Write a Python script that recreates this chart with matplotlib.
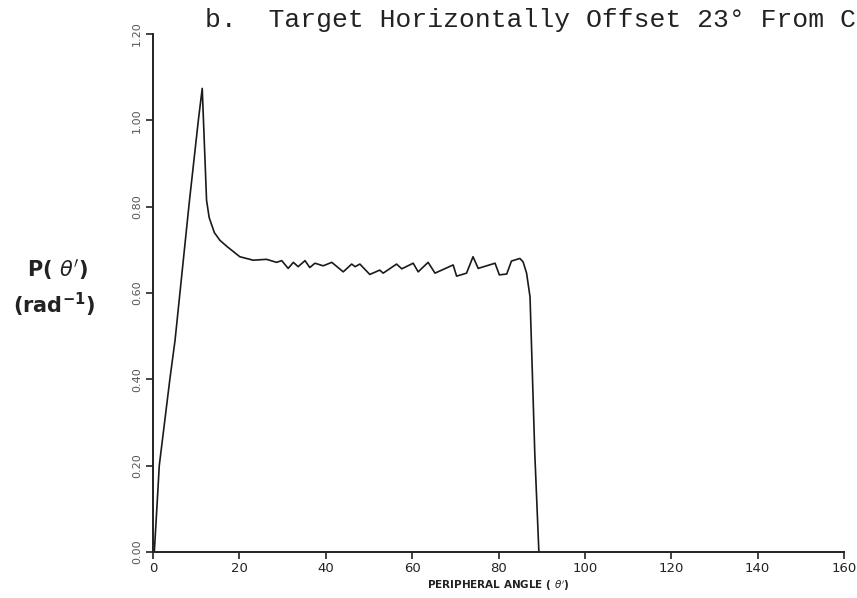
import matplotlib
matplotlib.use("Agg")
import matplotlib.pyplot as plt

# Data
angle = [0.3, 1.0, 1.45, 3.9, 5.1, 8.4, 10.5, 11.4, 12.4, 13.0, 14.2, 15.5, 17.1,
         20.1, 23.2, 26.3, 28.6, 29.8, 31.3, 32.5, 33.6, 35.2, 36.3, 37.5, 39.4,
         41.4, 44.05, 46.0, 46.8, 47.9, 50.2, 52.5, 53.3, 56.4, 57.6, 60.25, 61.4,
         63.7, 65.3, 69.5, 70.3, 72.6, 74.1, 75.3, 79.2, 80.2, 81.9, 83.0, 84.95,
         85.7, 86.5, 87.3, 87.7, 88.4, 89.35]
prob = [0.0, 0.12, 0.20, 0.40, 0.49, 0.81, 1.00, 1.074, 0.815, 0.775, 0.740, 0.722, 0.708,
        0.684, 0.676, 0.678, 0.671, 0.675, 0.657, 0.671, 0.661, 0.675, 0.659, 0.669, 0.663,
        0.671, 0.649, 0.667, 0.661, 0.667, 0.643, 0.653, 0.646, 0.667, 0.656, 0.669, 0.649,
        0.671, 0.646, 0.665, 0.639, 0.646, 0.684, 0.657, 0.669, 0.642, 0.644, 0.674, 0.680,
        0.672, 0.646, 0.591, 0.460, 0.229, 0.0]

xticks = [0, 20, 40, 60, 80, 100, 120, 140, 160]
yticks = [0.0, 0.2, 0.4, 0.6, 0.8, 1.0, 1.2]
ytick_labels = ["0.00", "0.20", "0.40", "0.60", "0.80", "1.00", "1.20"]

fig = plt.figure(figsize=(8.57, 5.98), dpi=100)
ax = fig.add_axes([153 / 857, 46 / 598, 691 / 857, 518 / 598])

ax.plot(angle, prob, color="#1a1a1a", linewidth=1.2)

ax.set_xlim(0, 160)
ax.set_ylim(0, 1.2)
for s in ["top", "right"]:
    ax.spines[s].set_visible(False)
for s in ["left", "bottom"]:
    ax.spines[s].set_linewidth(1.4)
    ax.spines[s].set_color("#222222")

ax.set_xticks(xticks)
ax.set_xticklabels([str(t) for t in xticks], fontsize=9.5, color="#222222")
ax.set_yticks(yticks)
ax.set_yticklabels(ytick_labels, rotation=90, va="center", fontsize=8,
                   color="#555555")
ax.tick_params(axis="x", direction="out", length=5, width=1.2, pad=2, colors="#222222")
ax.tick_params(axis="y", direction="out", length=5, width=1.2, pad=3, colors="#222222")
for lbl in ax.get_yticklabels():
    lbl.set_color("#555555")

ax.set_xlabel(r"PERIPHERAL ANGLE ( $\theta'$)", fontsize=7.5, fontweight="bold",
              labelpad=3, color="#222222")

fig.text(57 / 857, 1 - 270 / 598, r"P( $\theta'$)", fontsize=15, fontweight="bold",
         ha="center", va="center", color="#222222")
fig.text(54 / 857, 1 - 305 / 598, r"(rad$^{\mathbf{-1}}$)", fontsize=15,
         fontweight="bold", ha="center", va="center", color="#222222")

fig.text(205 / 857, 1 - 27 / 598, "b.  Target Horizontally Offset 23\u00b0 From C",
         family="Liberation Mono", fontsize=19, ha="left", va="baseline",
         color="#222222")

fig.savefig("out.png", dpi=100, facecolor="white")
